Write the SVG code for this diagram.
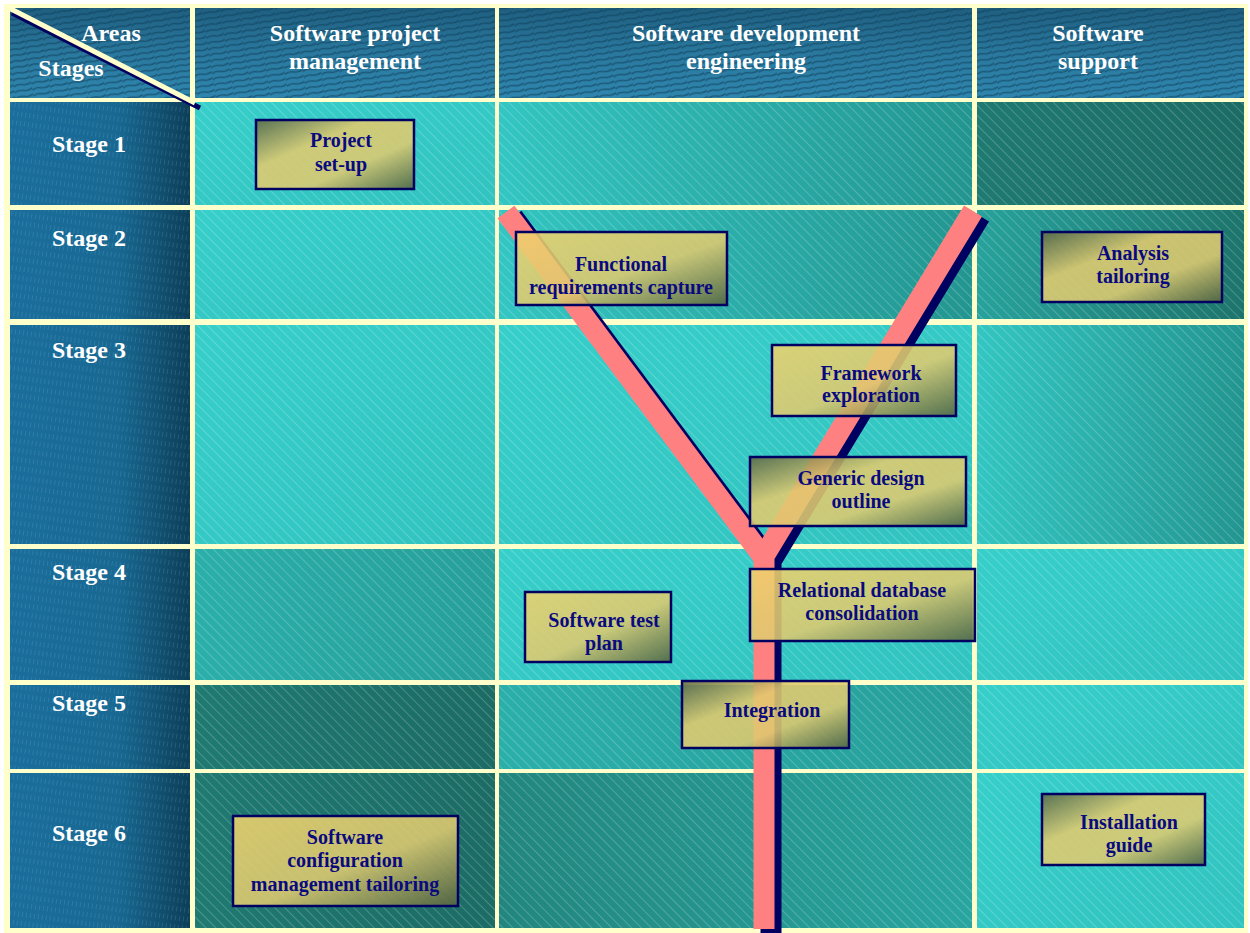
<svg xmlns="http://www.w3.org/2000/svg" width="1250" height="933" viewBox="0 0 1250 933">
<style>
.hd{font-family:"Liberation Serif","Times New Roman",serif;font-weight:bold;font-size:24px;fill:#FFFFFF;text-anchor:middle}
.bx{font-family:"Liberation Serif","Times New Roman",serif;font-weight:bold;font-size:20px;fill:#0A0A80;text-anchor:middle}
.box{stroke:#000060;stroke-width:2.5;fill-opacity:0.88}
.hatch{fill:url(#hatch)}
.hcell{fill:url(#hdrG)}
.hwave{fill:url(#wave)}
.scell{fill:url(#stgG)}
.sdash{fill:url(#vdash)}
</style>
<defs>
<pattern id="hatch" width="7" height="7" patternUnits="userSpaceOnUse" patternTransform="rotate(-45)">
<rect x="0" y="0" width="1" height="7" fill="#FFFFFF" fill-opacity="0.2"/>
</pattern>
<pattern id="wave" width="18" height="6" patternUnits="userSpaceOnUse" patternTransform="rotate(-9)">
<path d="M0,4 Q4.5,1.5 9,3 T18,2" fill="none" stroke="#0E3F5C" stroke-width="1.6" stroke-opacity="0.6"/>
</pattern>
<pattern id="vdash" width="4" height="9" patternUnits="userSpaceOnUse" patternTransform="rotate(8)">
<rect x="1" y="0" width="1" height="5" fill="#7EC0E0" fill-opacity="0.18"/>
</pattern>
<linearGradient id="hdrG" x1="0" y1="0" x2="0" y2="1">
<stop offset="0" stop-color="#1F5F80"/>
<stop offset="0.5" stop-color="#2A789E"/>
<stop offset="1" stop-color="#2F86AE"/>
</linearGradient>
<linearGradient id="stgG" x1="0" y1="0" x2="1" y2="0">
<stop offset="0" stop-color="#1B6E9C"/>
<stop offset="0.6" stop-color="#186892"/>
<stop offset="1" stop-color="#0D3E58"/>
</linearGradient>
<linearGradient id="cL" x1="0" y1="0" x2="1" y2="1">
<stop offset="0" stop-color="#37CFCA"/>
<stop offset="1" stop-color="#31C3BF"/>
</linearGradient>
<linearGradient id="cLM" x1="0" y1="0" x2="1" y2="0">
<stop offset="0" stop-color="#33C6C2"/>
<stop offset="1" stop-color="#239590"/>
</linearGradient>
<linearGradient id="cM" x1="0" y1="0" x2="1" y2="0">
<stop offset="0" stop-color="#2BAFAA"/>
<stop offset="1" stop-color="#279F9A"/>
</linearGradient>
<linearGradient id="cMD" x1="0" y1="0" x2="1" y2="0">
<stop offset="0" stop-color="#27A29C"/>
<stop offset="1" stop-color="#1D746C"/>
</linearGradient>
<linearGradient id="cDM" x1="0" y1="0" x2="1" y2="0">
<stop offset="0" stop-color="#22867E"/>
<stop offset="1" stop-color="#29A5A0"/>
</linearGradient>
<linearGradient id="cD" x1="0" y1="0" x2="1" y2="0">
<stop offset="0" stop-color="#1F7A72"/>
<stop offset="1" stop-color="#1C6C65"/>
</linearGradient>
<linearGradient id="gA" x1="0" y1="0" x2="1" y2="1">
<stop offset="0" stop-color="#EFD26C"/>
<stop offset="0.55" stop-color="#DECA70"/>
<stop offset="1" stop-color="#55633F"/>
</linearGradient>
<linearGradient id="gB" x1="0" y1="0" x2="1" y2="1">
<stop offset="0" stop-color="#5C6644"/>
<stop offset="0.35" stop-color="#E2CB6E"/>
<stop offset="0.65" stop-color="#DECA70"/>
<stop offset="1" stop-color="#55633F"/>
</linearGradient>
</defs>

<rect x="0" y="0" width="1250" height="933" fill="#FFFFFF"/>
<rect x="4" y="4" width="1244" height="929" fill="#FFFFCC"/>

<g id="grid">
<rect class="hcell" x="10" y="8" width="180" height="90"/><rect class="hwave" x="10" y="8" width="180" height="90"/>
<rect class="hcell" x="195" y="8" width="300" height="90"/><rect class="hwave" x="195" y="8" width="300" height="90"/>
<rect class="hcell" x="499" y="8" width="473" height="90"/><rect class="hwave" x="499" y="8" width="473" height="90"/>
<rect class="hcell" x="977" y="8" width="267" height="90"/><rect class="hwave" x="977" y="8" width="267" height="90"/>
<rect class="scell" x="10" y="102" width="180" height="103"/><rect class="sdash" x="10" y="102" width="180" height="103"/>
<rect class="scell" x="10" y="210" width="180" height="109"/><rect class="sdash" x="10" y="210" width="180" height="109"/>
<rect class="scell" x="10" y="325" width="180" height="219"/><rect class="sdash" x="10" y="325" width="180" height="219"/>
<rect class="scell" x="10" y="549" width="180" height="131"/><rect class="sdash" x="10" y="549" width="180" height="131"/>
<rect class="scell" x="10" y="685" width="180" height="84"/><rect class="sdash" x="10" y="685" width="180" height="84"/>
<rect class="scell" x="10" y="773" width="180" height="155"/><rect class="sdash" x="10" y="773" width="180" height="155"/>
<rect x="195" y="102" width="300" height="103" fill="url(#cL)"/>
<rect x="499" y="102" width="473" height="103" fill="url(#cLM)"/>
<rect x="977" y="102" width="267" height="103" fill="url(#cD)"/>
<rect x="195" y="210" width="300" height="109" fill="url(#cL)"/>
<rect x="499" y="210" width="473" height="109" fill="url(#cLM)"/>
<rect x="977" y="210" width="267" height="109" fill="url(#cMD)"/>
<rect x="195" y="325" width="300" height="219" fill="url(#cL)"/>
<rect x="499" y="325" width="473" height="219" fill="url(#cL)"/>
<rect x="977" y="325" width="267" height="219" fill="url(#cLM)"/>
<rect x="195" y="549" width="300" height="131" fill="url(#cM)"/>
<rect x="499" y="549" width="473" height="131" fill="url(#cL)"/>
<rect x="977" y="549" width="267" height="131" fill="url(#cL)"/>
<rect x="195" y="685" width="300" height="84" fill="url(#cD)"/>
<rect x="499" y="685" width="473" height="84" fill="url(#cM)"/>
<rect x="977" y="685" width="267" height="84" fill="url(#cL)"/>
<rect x="195" y="773" width="300" height="155" fill="url(#cD)"/>
<rect x="499" y="773" width="473" height="155" fill="url(#cDM)"/>
<rect x="977" y="773" width="267" height="155" fill="url(#cL)"/>
<rect class="hatch" x="195" y="102" width="300" height="103"/><rect class="hatch" x="499" y="102" width="473" height="103"/><rect class="hatch" x="977" y="102" width="267" height="103"/>
<rect class="hatch" x="195" y="210" width="300" height="109"/><rect class="hatch" x="499" y="210" width="473" height="109"/><rect class="hatch" x="977" y="210" width="267" height="109"/>
<rect class="hatch" x="195" y="325" width="300" height="219"/><rect class="hatch" x="499" y="325" width="473" height="219"/><rect class="hatch" x="977" y="325" width="267" height="219"/>
<rect class="hatch" x="195" y="549" width="300" height="131"/><rect class="hatch" x="499" y="549" width="473" height="131"/><rect class="hatch" x="977" y="549" width="267" height="131"/>
<rect class="hatch" x="195" y="685" width="300" height="84"/><rect class="hatch" x="499" y="685" width="473" height="84"/><rect class="hatch" x="977" y="685" width="267" height="84"/>
<rect class="hatch" x="195" y="773" width="300" height="155"/><rect class="hatch" x="499" y="773" width="473" height="155"/><rect class="hatch" x="977" y="773" width="267" height="155"/>
<line x1="12" y1="13" x2="200" y2="108" stroke="#000060" stroke-width="5"/>
<line x1="9" y1="8" x2="195" y2="103" stroke="#FFFFCC" stroke-width="5"/>
</g>

<g id="header-labels">
<text class="hd" x="111" y="41">Areas</text>
<text class="hd" x="71" y="76">Stages</text>
<text class="hd" x="355" y="41">Software project</text>
<text class="hd" x="355" y="69">management</text>
<text class="hd" x="746" y="41">Software development</text>
<text class="hd" x="746" y="69">engineering</text>
<text class="hd" x="1098" y="41">Software</text>
<text class="hd" x="1098" y="69">support</text>
</g>

<g id="stage-labels">
<text class="hd" x="89" y="152">Stage 1</text>
<text class="hd" x="89" y="246">Stage 2</text>
<text class="hd" x="89" y="358">Stage 3</text>
<text class="hd" x="89" y="580">Stage 4</text>
<text class="hd" x="89" y="711">Stage 5</text>
<text class="hd" x="89" y="841">Stage 6</text>
</g>

<g id="connectors" fill="none" stroke-width="21" stroke-linejoin="miter">
<g transform="translate(7,5)" stroke="#000060">
<path d="M506,212 L764,558"/>
<path d="M973,211 L764,556 L764,929"/>
</g>
<g stroke="#FF8080">
<path d="M506,212 L764,558"/>
<path d="M973,211 L764,556 L764,929"/>
</g>
</g>

<g id="node-project-setup">
<rect class="box" x="256" y="120" width="158" height="69" fill="url(#gB)"/>
<text class="bx" x="341" y="147">Project</text>
<text class="bx" x="341" y="171">set-up</text>
</g>
<g id="node-functional-requirements">
<rect class="box" x="516" y="232" width="211" height="73" fill="url(#gA)"/>
<text class="bx" x="621" y="271">Functional</text>
<text class="bx" x="621" y="294">requirements capture</text>
</g>
<g id="node-analysis-tailoring">
<rect class="box" x="1042" y="232" width="180" height="70" fill="url(#gB)"/>
<text class="bx" x="1133" y="260">Analysis</text>
<text class="bx" x="1133" y="283">tailoring</text>
</g>
<g id="node-framework-exploration">
<rect class="box" x="772" y="345" width="184" height="71" fill="url(#gA)"/>
<text class="bx" x="871" y="380">Framework</text>
<text class="bx" x="871" y="402">exploration</text>
</g>
<g id="node-generic-design">
<rect class="box" x="750" y="457" width="216" height="69" fill="url(#gB)"/>
<text class="bx" x="861" y="485">Generic design</text>
<text class="bx" x="861" y="508">outline</text>
</g>
<g id="node-relational-db">
<rect class="box" x="750" y="569" width="225" height="72" fill="url(#gA)"/>
<text class="bx" x="862" y="597">Relational database</text>
<text class="bx" x="862" y="620">consolidation</text>
</g>
<g id="node-software-test-plan">
<rect class="box" x="525" y="592" width="146" height="70" fill="url(#gA)"/>
<text class="bx" x="604" y="627">Software test</text>
<text class="bx" x="604" y="650">plan</text>
</g>
<g id="node-integration">
<rect class="box" x="682" y="681" width="167" height="67" fill="url(#gB)"/>
<text class="bx" x="772" y="717">Integration</text>
</g>
<g id="node-scm-tailoring">
<rect class="box" x="233" y="816" width="225" height="90" fill="url(#gA)"/>
<text class="bx" x="345" y="844">Software</text>
<text class="bx" x="345" y="867">configuration</text>
<text class="bx" x="345" y="891">management tailoring</text>
</g>
<g id="node-installation-guide">
<rect class="box" x="1042" y="794" width="163" height="71" fill="url(#gB)"/>
<text class="bx" x="1129" y="829">Installation</text>
<text class="bx" x="1129" y="852">guide</text>
</g>
</svg>
